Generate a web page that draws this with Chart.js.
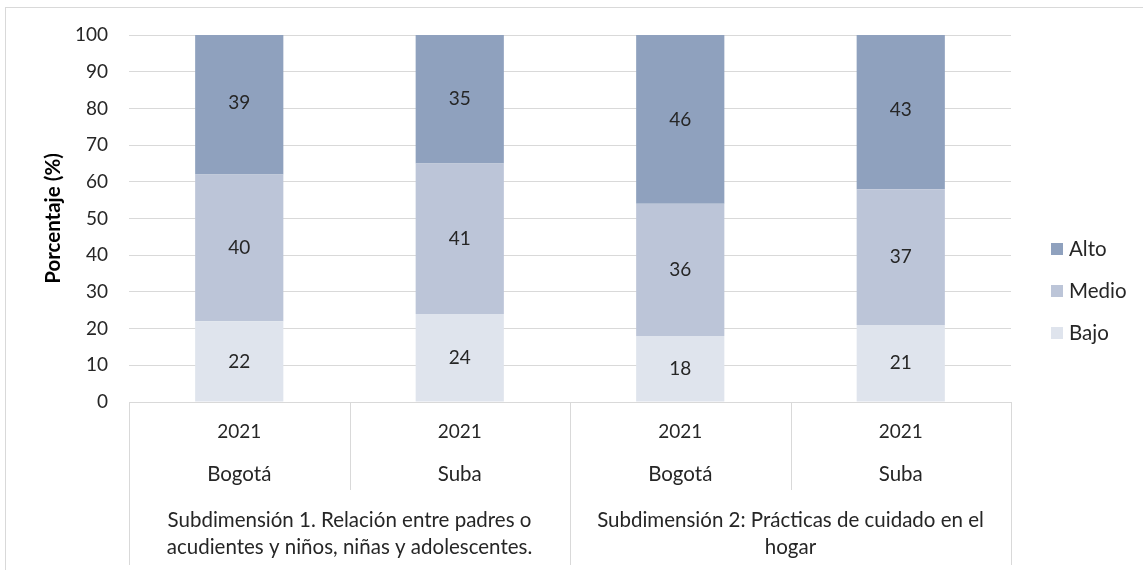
<!DOCTYPE html>
<html>
<head>
<meta charset="utf-8">
<script src="https://cdn.jsdelivr.net/npm/chart.js@4.4.1/dist/chart.umd.min.js"></script>
<style>
  html, body { margin: 0; padding: 0; background: #ffffff; }
  #wrap { position: relative; width: 1143px; height: 570px; overflow: hidden; }
  #frame { position: absolute; left: 5px; top: 7px; width: 1140px; height: 570px; border: 1px solid #d9d9d9; box-sizing: border-box; }
  canvas { position: absolute; left: 0; top: 0; }
</style>
</head>
<body>
<div id="wrap">
  <div id="frame"></div>
  <canvas id="chart" width="1143" height="570"></canvas>
</div>
<script>
// Category levels of the horizontal axis
const years = ['2021', '2021', '2021', '2021'];
const places = ['Bogotá', 'Suba', 'Bogotá', 'Suba'];
const groupLabels = [
  ['Subdimensión 1. Relación entre padres o', 'acudientes y niños, niñas y adolescentes.'],
  ['Subdimensión 2: Prácticas de cuidado en el', 'hogar']
];
const groupSpans = [[0, 1], [2, 3]];

// Percentages per level
const bajo = [22, 24, 18, 21];
const medio = [40, 41, 36, 37];
const alto = [39, 35, 46, 43];

const seriesNames = ['Bajo', 'Medio', 'Alto'];
const seriesColors = ['#dfe4ed', '#bcc5d8', '#8fa1be'];

const FONT = 'Lato, "Open Sans", sans-serif';
const NUM_FONT = '19px ' + FONT;
const WORD_FONT = '20.5px ' + FONT;
const TEXT = '#262626';
const LINE = '#d9d9d9';

// Value labels centred inside each stacked segment
const segmentLabels = {
  id: 'segmentLabels',
  afterDatasetsDraw(chart) {
    const ctx = chart.ctx;
    ctx.save();
    ctx.font = NUM_FONT;
    ctx.fillStyle = TEXT;
    ctx.textAlign = 'center';
    ctx.textBaseline = 'middle';
    chart.data.datasets.forEach((ds, i) => {
      const meta = chart.getDatasetMeta(i);
      meta.data.forEach((el, j) => {
        const p = el.getProps(['x', 'y', 'base'], true);
        ctx.fillText(String(ds.data[j]), p.x, (p.y + p.base) / 2);
      });
    });
    ctx.restore();
  }
};

// Multi-level category table under the plot
const categoryTable = {
  id: 'categoryTable',
  afterDraw(chart) {
    const ctx = chart.ctx;
    const xs = chart.scales.x;
    const area = chart.chartArea;
    const half = (xs.getPixelForValue(1) - xs.getPixelForValue(0)) / 2;
    const top = area.bottom;
    ctx.save();
    ctx.strokeStyle = LINE;
    ctx.lineWidth = 1;
    for (let k = 0; k <= years.length; k++) {
      const x = Math.round(xs.getPixelForValue(k) - half) + 0.5;
      const isGroupEdge = groupSpans.some(s => s[0] === k) || k === years.length;
      ctx.beginPath();
      ctx.moveTo(x, top);
      ctx.lineTo(x, isGroupEdge ? top + 163 : top + 88);
      ctx.stroke();
    }
    ctx.fillStyle = TEXT;
    ctx.textAlign = 'center';
    ctx.textBaseline = 'middle';
    years.forEach((y, k) => {
      const cx = xs.getPixelForValue(k);
      ctx.font = NUM_FONT;
      ctx.fillText(y, cx, top + 30);
      ctx.font = WORD_FONT;
      ctx.fillText(places[k], cx, top + 72);
    });
    ctx.font = WORD_FONT;
    groupSpans.forEach((s, g) => {
      const cx = (xs.getPixelForValue(s[0]) + xs.getPixelForValue(s[1])) / 2;
      groupLabels[g].forEach((line, li) => {
        ctx.fillText(line, cx, top + 118 + li * 27);
      });
    });
    ctx.restore();
  }
};

// Legend on the right, top-to-bottom Alto, Medio, Bajo
const sideLegend = {
  id: 'sideLegend',
  afterDraw(chart) {
    const ctx = chart.ctx;
    const area = chart.chartArea;
    const x0 = area.right + 40;
    const midY = 291;
    const gap = 42;
    ctx.save();
    ctx.font = WORD_FONT;
    ctx.textAlign = 'left';
    ctx.textBaseline = 'middle';
    [2, 1, 0].forEach((si, n) => {
      const cy = midY + (n - 1) * gap;
      ctx.fillStyle = seriesColors[si];
      ctx.fillRect(x0, cy - 6, 12, 12);
      ctx.fillStyle = TEXT;
      ctx.fillText(seriesNames[si], x0 + 18, cy);
    });
    ctx.restore();
  }
};

new Chart(document.getElementById('chart'), {
  type: 'bar',
  data: {
    labels: places,
    datasets: [
      { label: seriesNames[0], data: bajo, backgroundColor: seriesColors[0] },
      { label: seriesNames[1], data: medio, backgroundColor: seriesColors[1] },
      { label: seriesNames[2], data: alto, backgroundColor: seriesColors[2] }
    ]
  },
  options: {
    responsive: false,
    animation: false,
    devicePixelRatio: 1,
    layout: { padding: { top: 35, right: 132, bottom: 0, left: 0 } },
    datasets: { bar: { categoryPercentage: 1, barPercentage: 0.4, borderWidth: 0 } },
    scales: {
      x: {
        stacked: true,
        ticks: { display: false },
        grid: { display: false },
        border: { display: false },
        afterFit(scale) { scale.height = 168; }
      },
      y: {
        stacked: true,
        min: 0,
        max: 100,
        ticks: { stepSize: 10, padding: 21, color: TEXT, font: { family: FONT, size: 19 } },
        grid: { color: LINE, lineWidth: 1, drawTicks: false },
        border: { display: false },
        title: {
          display: true,
          text: 'Porcentaje (%)',
          color: '#000000',
          font: { family: FONT, size: 20.5, weight: 'bold' },
          padding: { top: 41, bottom: 0 }
        },
        afterFit(scale) { scale.width = 129; }
      }
    },
    plugins: {
      legend: { display: false },
      tooltip: { enabled: false }
    }
  },
  plugins: [segmentLabels, categoryTable, sideLegend]
});
</script>
</body>
</html>
